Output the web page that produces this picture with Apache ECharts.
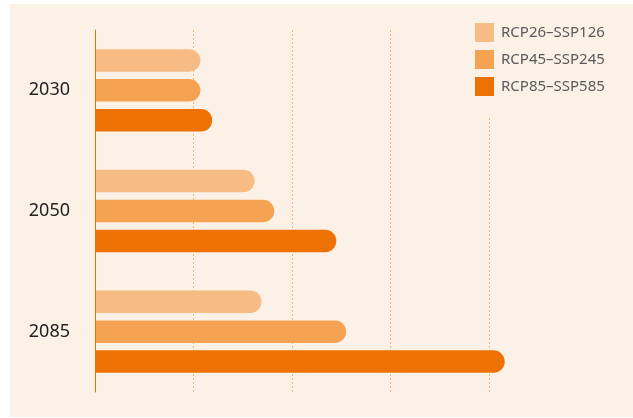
<!DOCTYPE html>
<html>
<head>
<meta charset="utf-8">
<script src="https://cdn.jsdelivr.net/npm/echarts@6/dist/echarts.min.js"></script>
<style>
  html, body { margin:0; padding:0; background:#ffffff; }
  #panel { position:absolute; left:10px; top:4px; width:623px; height:413px; background:#fcf1e7; }
  #chart { position:absolute; left:0; top:0; width:633px; height:418px; }
</style>
</head>
<body>
<div id="panel"></div>
<div id="chart"></div>
<script>
const categories = ['2030', '2050', '2085'];
const seriesNames = ['RCP26–SSP126', 'RCP45–SSP245', 'RCP85–SSP585'];
const rcp26 = [1.07, 1.62, 1.69];
const rcp45 = [1.07, 1.82, 2.55];
const rcp85 = [1.19, 2.45, 4.16];
const colors = ['#f7bb84', '#f4a352', '#ee7203'];

const chart = echarts.init(document.getElementById('chart'));
const values = [rcp26, rcp45, rcp85];
chart.setOption({
  animation: false,
  backgroundColor: 'transparent',
  textStyle: { fontFamily: 'Noto Sans' },
  legend: {
    orient: 'vertical',
    left: 465,
    top: 18,
    padding: [5, 10, 20, 10],
    backgroundColor: '#fcf1e7',
    itemWidth: 19,
    itemHeight: 19,
    itemGap: 8,
    icon: 'rect',
    textStyle: { fontSize: 15, color: '#5a5a5a', fontFamily: 'Noto Sans', padding: [0, 0, 0, 2] },
    data: seriesNames
  },
  grid: { left: 95, top: 30, width: 443.25, height: 362 },
  xAxis: {
    type: 'value',
    min: 0,
    max: 4.5,
    interval: 1,
    axisLine: { show: false },
    axisTick: { show: false },
    axisLabel: { show: false },
    splitLine: {
      show: true,
      showMinLine: false,
      showMaxLine: false,
      lineStyle: { color: '#f5b47a', type: [2, 2], width: 1 }
    }
  },
  yAxis: {
    type: 'category',
    inverse: true,
    data: categories,
    axisLine: { show: true, lineStyle: { color: '#ee7203', width: 1 } },
    axisTick: { show: false },
    axisLabel: { fontSize: 18, color: '#222222', margin: 25, fontFamily: 'Noto Sans' },
    z: 5
  },
  series: seriesNames.map((name, i) => ({
    name: name,
    type: 'bar',
    data: values[i],
    barWidth: 22.5,
    barGap: '33%',
    itemStyle: { color: colors[i], borderRadius: [0, 11.25, 11.25, 0] }
  }))
});
</script>
</body>
</html>
